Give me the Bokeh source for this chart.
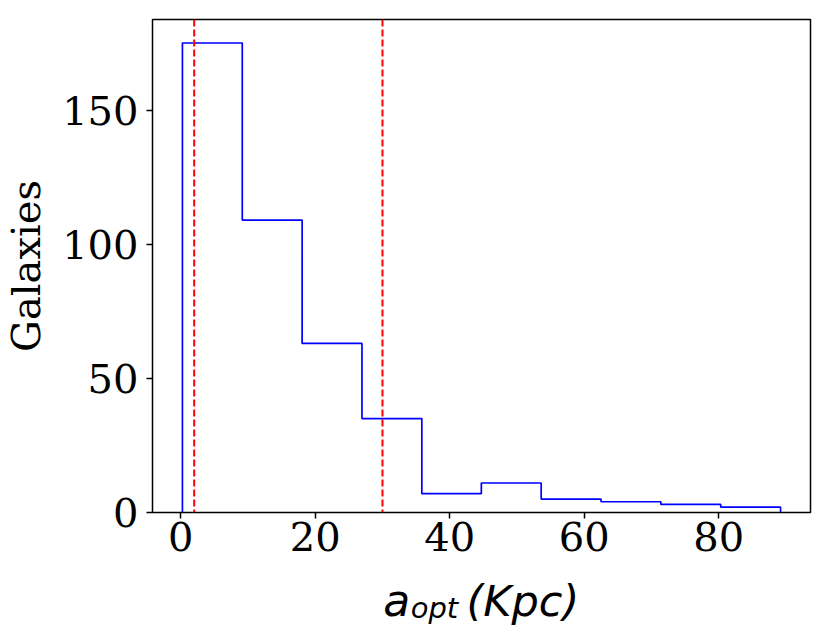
from bokeh.plotting import figure
from bokeh.layouts import column
from bokeh.models import Range1d, FixedTicker, Label, Span
from bokeh.embed import file_html
from bokeh.resources import INLINE

# histogram data
bin_edges = [0.25, 9.15, 18.05, 26.95, 35.85, 44.7, 53.6, 62.5, 71.4, 80.3, 89.2]
counts = [175, 109, 63, 35, 7, 11, 5, 4, 3, 2]
ref_lines = [2, 30]
x_ticks = [0, 20, 40, 60, 80]
y_ticks = [0, 50, 100, 150]

W = 831
p = figure(width=W, height=575, output_backend="svg", toolbar_location=None,
           x_range=Range1d(-4.2, 93.65), y_range=Range1d(0, 183.75),
           min_border_left=151, min_border_right=21, min_border_top=19,
           min_border_bottom=63, title_location=None)
p.grid.visible = False
p.outline_line_color = "black"
p.outline_line_width = 1.5
p.background_fill_color = "white"
p.border_fill_color = "white"

# step outline of the histogram
xs, ys = [bin_edges[0]], [0]
for i, c in enumerate(counts):
    xs += [bin_edges[i], bin_edges[i + 1]]
    ys += [c, c]
xs.append(bin_edges[-1])
ys.append(0)
p.line(xs, ys, line_color="blue", line_width=1.7)

for v in ref_lines:
    p.add_layout(Span(location=v, dimension="height", line_color="red",
                      line_dash="7 3", line_width=2))

for ax in (p.xaxis, p.yaxis):
    ax.major_label_text_font = "DejaVu Serif"
    ax.major_label_text_font_size = "40px"
    ax.major_label_text_color = "black"
    ax.axis_line_color = None
    ax.major_tick_in = 0
    ax.major_tick_out = 6
    ax.major_tick_line_width = 1.5
    ax.minor_tick_line_color = None
p.xaxis.major_label_standoff = 3
p.yaxis.major_label_standoff = 8
p.xaxis.ticker = FixedTicker(ticks=x_ticks)
p.yaxis.ticker = FixedTicker(ticks=y_ticks)
p.yaxis.axis_label = "Galaxies"
p.yaxis.axis_label_text_font = "DejaVu Serif"
p.yaxis.axis_label_text_font_style = "normal"
p.yaxis.axis_label_text_font_size = "40px"
p.yaxis.axis_label_text_color = "black"
p.yaxis.axis_label_standoff = 10

# strip below the plot holding the x axis label: a_opt (Kpc)
H2 = 54
q = figure(width=W, height=H2, output_backend="svg", toolbar_location=None,
           x_range=p.x_range, y_range=Range1d(0, H2), title_location=None,
           x_axis_location=None, y_axis_location=None,
           min_border_left=151, min_border_right=21, min_border_top=0,
           min_border_bottom=0)
q.grid.visible = False
q.outline_line_color = None
q.background_fill_color = "white"
q.border_fill_color = "white"
common = dict(x_units="data", y_units="data", text_font="DejaVu Sans",
              text_font_style="italic", text_color="black",
              text_baseline="alphabetic", text_align="left")
q.add_layout(Label(x=30.1, y=29, text="a", text_font_size="44px", **common))
q.add_layout(Label(x=34.2, y=21.5, text="opt", text_font_size="29px", **common))
q.add_layout(Label(x=42.5, y=29, text="(Kpc)", text_font_size="43px", **common))

layout = column(p, q, spacing=0)
open("out.html", "w").write(file_html(layout, INLINE))
